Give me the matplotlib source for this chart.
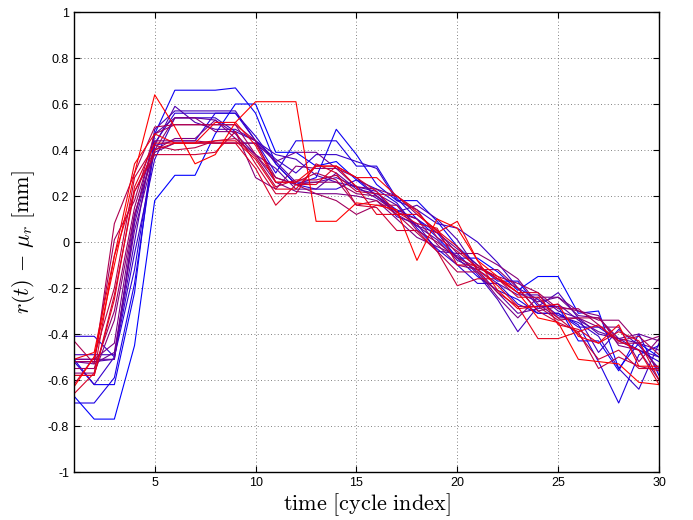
import numpy as np
import matplotlib.pyplot as plt

plt.rcParams['mathtext.fontset'] = 'cm'
plt.rcParams['font.family'] = ['Liberation Sans', 'DejaVu Sans']

t = np.arange(1, 31)

# one row per cycle run, ordered from first (blue) to last (red)
runs = [
    [-0.67, -0.77, -0.77, -0.45, 0.18, 0.29, 0.29, 0.47, 0.60, 0.60, 0.39, 0.39, 0.33, 0.35, 0.27, 0.20, 0.14, 0.10, 0.02, -0.07, -0.07, -0.13, -0.21, -0.15, -0.15, -0.31, -0.30, -0.55, -0.44, -0.50],
    [-0.51, -0.62, -0.62, -0.22, 0.47, 0.66, 0.66, 0.66, 0.67, 0.56, 0.34, 0.25, 0.28, 0.49, 0.38, 0.25, 0.18, 0.18, 0.09, -0.02, -0.10, -0.17, -0.17, -0.28, -0.28, -0.43, -0.43, -0.56, -0.40, -0.58],
    [-0.70, -0.70, -0.59, -0.18, 0.42, 0.44, 0.44, 0.56, 0.56, 0.44, 0.30, 0.44, 0.44, 0.44, 0.33, 0.33, 0.19, 0.10, 0.04, -0.07, -0.15, -0.21, -0.25, -0.31, -0.31, -0.36, -0.52, -0.70, -0.49, -0.45],
    [-0.41, -0.41, -0.50, -0.12, 0.43, 0.56, 0.56, 0.56, 0.56, 0.46, 0.34, 0.25, 0.23, 0.23, 0.27, 0.23, 0.17, 0.06, -0.03, -0.10, -0.18, -0.18, -0.27, -0.31, -0.31, -0.37, -0.37, -0.43, -0.47, -0.52],
    [-0.52, -0.62, -0.50, -0.05, 0.36, 0.54, 0.54, 0.54, 0.48, 0.44, 0.36, 0.30, 0.38, 0.38, 0.35, 0.32, 0.18, 0.14, 0.08, 0.06, 0.00, -0.09, -0.20, -0.25, -0.32, -0.35, -0.41, -0.55, -0.64, -0.44],
    [-0.49, -0.49, -0.49, 0.00, 0.49, 0.57, 0.57, 0.57, 0.57, 0.44, 0.38, 0.36, 0.29, 0.26, 0.24, 0.22, 0.11, 0.08, -0.04, -0.05, -0.14, -0.25, -0.39, -0.28, -0.22, -0.33, -0.48, -0.38, -0.45, -0.55],
    [-0.52, -0.52, -0.51, 0.08, 0.42, 0.59, 0.52, 0.49, 0.49, 0.44, 0.35, 0.26, 0.26, 0.28, 0.24, 0.19, 0.13, 0.16, 0.10, 0.01, -0.12, -0.18, -0.23, -0.23, -0.30, -0.33, -0.40, -0.42, -0.47, -0.50],
    [-0.51, -0.51, -0.51, 0.10, 0.47, 0.54, 0.54, 0.53, 0.47, 0.38, 0.32, 0.23, 0.23, 0.30, 0.23, 0.21, 0.16, 0.07, 0.01, -0.08, -0.12, -0.22, -0.31, -0.29, -0.27, -0.34, -0.39, -0.42, -0.44, -0.47],
    [-0.52, -0.53, -0.48, 0.05, 0.39, 0.43, 0.43, 0.43, 0.43, 0.43, 0.35, 0.39, 0.39, 0.32, 0.28, 0.20, 0.12, 0.07, 0.04, -0.03, -0.10, -0.16, -0.22, -0.26, -0.24, -0.32, -0.33, -0.42, -0.40, -0.43],
    [-0.51, -0.51, -0.44, 0.12, 0.40, 0.45, 0.45, 0.53, 0.45, 0.38, 0.26, 0.22, 0.21, 0.21, 0.20, 0.18, 0.10, 0.02, -0.02, -0.06, -0.13, -0.24, -0.33, -0.24, -0.24, -0.30, -0.32, -0.45, -0.47, -0.60],
    [-0.57, -0.57, -0.34, 0.12, 0.40, 0.54, 0.54, 0.48, 0.48, 0.28, 0.23, 0.33, 0.32, 0.32, 0.24, 0.23, 0.20, 0.12, 0.05, -0.05, -0.05, -0.10, -0.16, -0.27, -0.33, -0.33, -0.37, -0.37, -0.52, -0.42],
    [-0.55, -0.55, -0.30, 0.15, 0.44, 0.44, 0.44, 0.43, 0.43, 0.43, 0.28, 0.25, 0.26, 0.26, 0.21, 0.20, 0.13, 0.10, -0.01, -0.10, -0.12, -0.12, -0.20, -0.30, -0.28, -0.30, -0.34, -0.34, -0.44, -0.41],
    [-0.52, -0.52, 0.01, 0.18, 0.47, 0.51, 0.51, 0.51, 0.51, 0.38, 0.28, 0.25, 0.21, 0.18, 0.12, 0.16, 0.16, 0.05, 0.00, -0.07, -0.11, -0.15, -0.18, -0.22, -0.29, -0.29, -0.36, -0.44, -0.44, -0.56],
    [-0.43, -0.53, 0.08, 0.30, 0.50, 0.51, 0.51, 0.51, 0.51, 0.44, 0.26, 0.26, 0.30, 0.27, 0.16, 0.18, 0.12, 0.04, -0.04, -0.13, -0.13, -0.22, -0.28, -0.28, -0.34, -0.33, -0.33, -0.43, -0.41, -0.49],
    [-0.62, -0.50, -0.20, 0.28, 0.42, 0.40, 0.41, 0.44, 0.45, 0.37, 0.24, 0.27, 0.27, 0.29, 0.22, 0.21, 0.20, 0.14, 0.02, -0.04, -0.11, -0.16, -0.20, -0.30, -0.35, -0.39, -0.55, -0.50, -0.54, -0.56],
    [-0.58, -0.58, -0.23, 0.22, 0.38, 0.38, 0.38, 0.39, 0.48, 0.34, 0.21, 0.21, 0.34, 0.30, 0.16, 0.15, 0.05, 0.05, -0.04, -0.19, -0.16, -0.16, -0.24, -0.24, -0.33, -0.40, -0.51, -0.47, -0.55, -0.55],
    [-0.66, -0.57, -0.06, 0.22, 0.40, 0.43, 0.43, 0.43, 0.43, 0.32, 0.16, 0.25, 0.25, 0.33, 0.28, 0.22, 0.13, 0.08, 0.06, -0.10, -0.10, -0.16, -0.22, -0.22, -0.36, -0.38, -0.44, -0.39, -0.43, -0.60],
    [-0.58, -0.58, -0.25, 0.24, 0.43, 0.43, 0.43, 0.44, 0.44, 0.36, 0.23, 0.23, 0.33, 0.33, 0.24, 0.12, 0.12, 0.12, 0.05, -0.02, -0.12, -0.19, -0.28, -0.42, -0.42, -0.39, -0.36, -0.43, -0.47, -0.62],
    [-0.51, -0.48, -0.06, 0.34, 0.47, 0.43, 0.43, 0.52, 0.52, 0.42, 0.26, 0.26, 0.33, 0.33, 0.28, 0.28, 0.20, 0.13, 0.04, 0.09, -0.08, -0.21, -0.29, -0.28, -0.27, -0.41, -0.44, -0.36, -0.54, -0.54],
    [-0.63, -0.50, -0.10, 0.30, 0.64, 0.50, 0.34, 0.38, 0.52, 0.61, 0.61, 0.61, 0.09, 0.09, 0.17, 0.16, 0.14, -0.08, 0.10, 0.06, -0.08, -0.15, -0.22, -0.33, -0.35, -0.51, -0.52, -0.53, -0.61, -0.62],
]

yticks = [-1, -0.8, -0.6, -0.4, -0.2, 0, 0.2, 0.4, 0.6, 0.8, 1]
ytick_labels = ['-1', '-0.8', '-0.6', '-0.4', '-0.2', '0', '0.2', '0.4', '0.6', '0.8', '1']
xticks = [5, 10, 15, 20, 25, 30]

fig = plt.figure(figsize=(6.93, 5.2), dpi=100)
ax = fig.add_axes([0.1068, 0.0923, 0.8442, 0.8846])

n = len(runs)
for i, r in enumerate(runs):
    f = i / (n - 1)
    ax.plot(t, r, color=(f, 0, 1 - f), lw=0.8)

ax.set_xlim(1, 30)
ax.set_ylim(-1, 1)
ax.set_xticks(xticks)
ax.set_yticks(yticks)
ax.set_yticklabels(ytick_labels)
ax.grid(True, color='0.35', linestyle=(0, (1, 3)), lw=0.6)
ax.tick_params(direction='in', top=True, right=True, labelsize=9, length=4, width=0.8)
for s in ax.spines.values():
    s.set_linewidth(1.0)

ax.set_xlabel(r'$\mathrm{time\ [cycle\ index]}$', fontsize=16, labelpad=2)
ax.set_ylabel(r'$r(t)\,-\,\mu_r\ [\mathrm{mm}]$', fontsize=16, labelpad=8)

fig.savefig('out.png', dpi=100)
